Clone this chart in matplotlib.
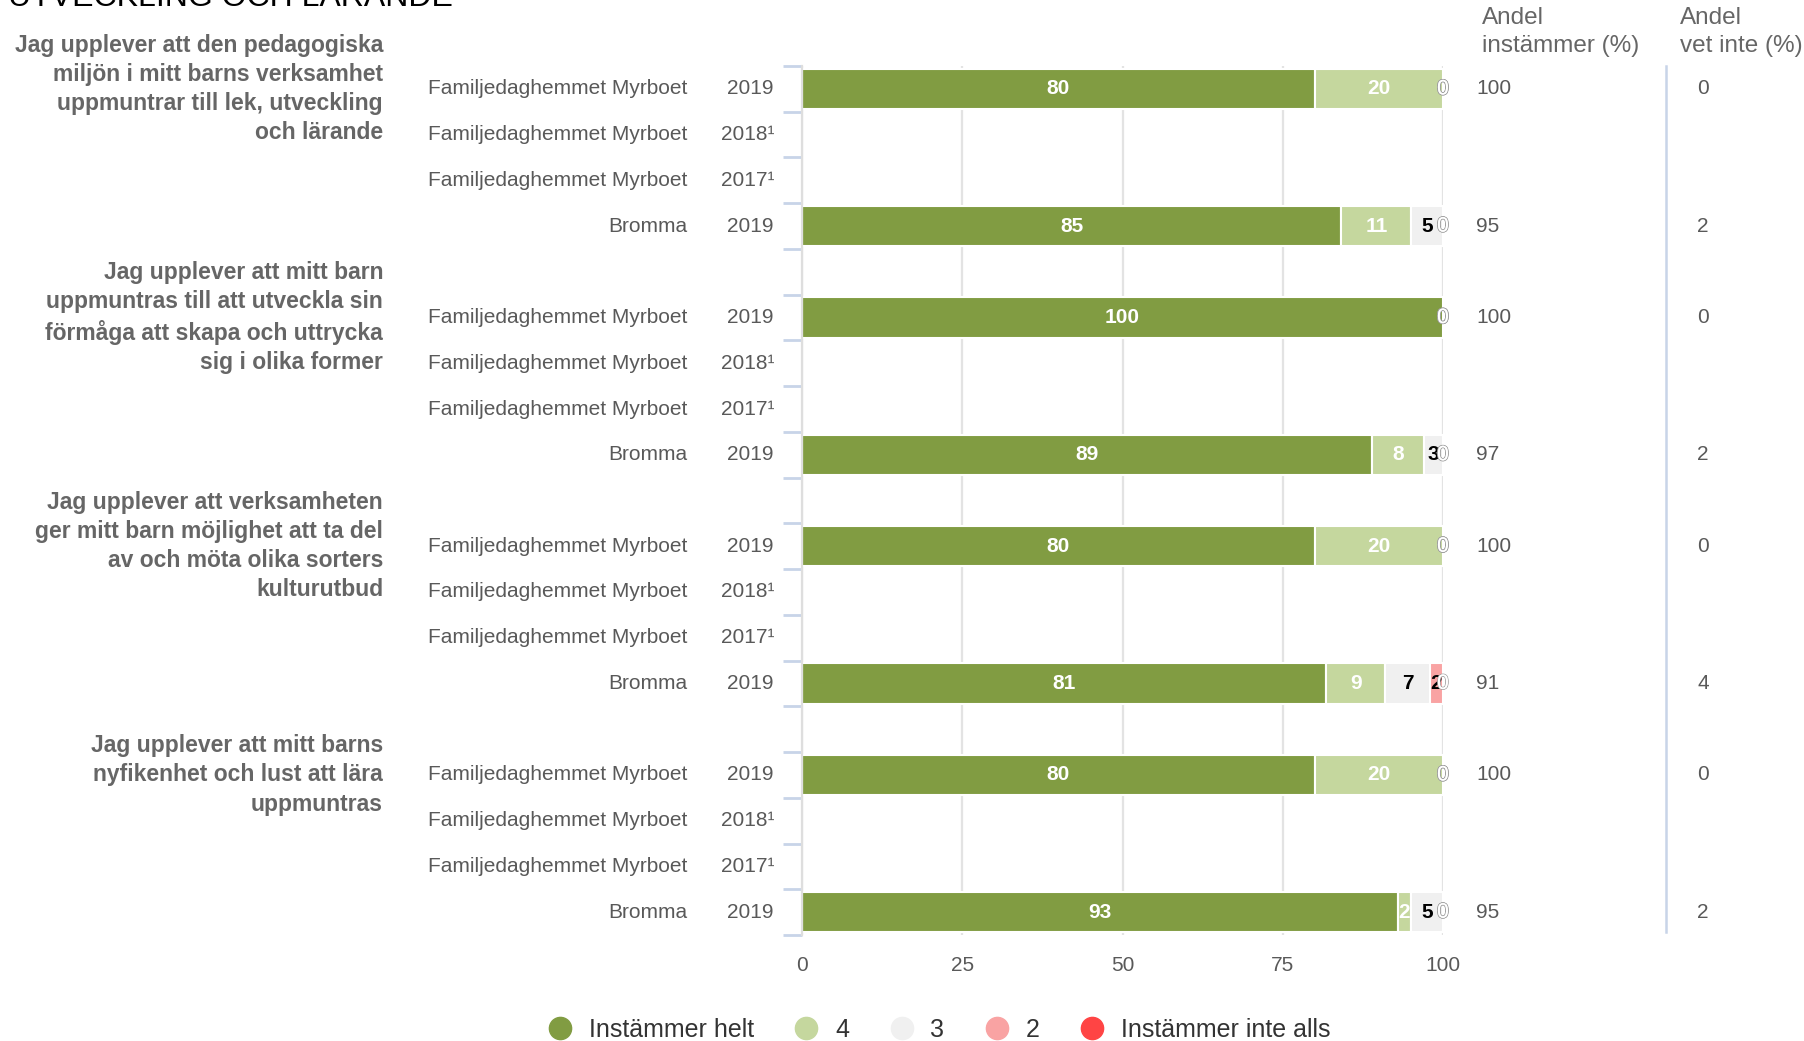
import numpy as np
import matplotlib
matplotlib.use("Agg")
import matplotlib.pyplot as plt
import matplotlib.patheffects as pe
from matplotlib.lines import Line2D
from matplotlib.transforms import blended_transform_factory

plt.rcParams['font.family'] = ['Liberation Sans', 'DejaVu Sans']

#--------------------------Data------------------------------------------#
title = "UTVECKLING OCH LÄRANDE"

questions = [
    "Jag upplever att den pedagogiska\nmiljön i mitt barns verksamhet\nuppmuntrar till lek, utveckling\noch lärande",
    "Jag upplever att mitt barn\nuppmuntras till att utveckla sin\nförmåga att skapa och uttrycka\nsig i olika former",
    "Jag upplever att verksamheten\nger mitt barn möjlighet att ta del\nav och möta olika sorters\nkulturutbud",
    "Jag upplever att mitt barns\nnyfikenhet och lust att lära\nuppmuntras",
]

units = ["Familjedaghemmet Myrboet", "Familjedaghemmet Myrboet",
         "Familjedaghemmet Myrboet", "Bromma"]
years = ["2019", "2018¹", "2017¹", "2019"]

categories = ["Instämmer helt", "4", "3", "2", "Instämmer inte alls"]
cat_colors = ["#819c42", "#c5d79e", "#f0f0f0", "#f9a3a3", "#ff4444"]
label_colors = ["white", "white", "black", "black", "white"]

nan = np.nan
# one value per row, 4 rows per question (Myrboet 2019, 2018, 2017, Bromma 2019)
helt = [80, nan, nan, 85, 100, nan, nan, 89, 80, nan, nan, 81, 80, nan, nan, 93]
fyra = [20, nan, nan, 11, 0, nan, nan, 8, 20, nan, nan, 9, 20, nan, nan, 2]
tre = [0, nan, nan, 5, 0, nan, nan, 3, 0, nan, nan, 7, 0, nan, nan, 5]
tva = [0, nan, nan, 0, 0, nan, nan, 0, 0, nan, nan, 2, 0, nan, nan, 0]
inte_alls = [0, nan, nan, 0, 0, nan, nan, 0, 0, nan, nan, 0, 0, nan, nan, 0]

andel_instammer = ["100", "", "", "95", "100", "", "", "97",
                   "100", "", "", "91", "100", "", "", "95"]
andel_vet_inte = ["0", "", "", "2", "0", "", "", "2",
                  "0", "", "", "4", "0", "", "", "2"]

xticks = [0, 25, 50, 75, 100]

#--------------------------Plot------------------------------------------#
W, H = 1804, 1041
fig = plt.figure(figsize=(W / 100, H / 100), dpi=100)

# axes placed in pixel coordinates of the reference
ax_left, ax_right, ax_top, ax_bottom = 802, 1443, 66, 935
ax = fig.add_axes([ax_left / W, 1 - ax_bottom / H,
                   (ax_right - ax_left) / W, (ax_bottom - ax_top) / H])

series = np.array([helt, fyra, tre, tva, inte_alls], dtype=float)
n_rows = series.shape[1]
# row positions: 4 rows per question + one blank row between questions
ypos = np.array([(i // 4) * 5 + i % 4 for i in range(n_rows)])

bar_h = 0.88
for i in range(n_rows):
    vals = series[:, i]
    if np.isnan(vals).all():
        continue
    widths = vals / vals.sum() * 100
    left = 0
    for k in range(len(categories)):
        w = widths[k]
        if w > 0:
            ax.barh(ypos[i], w, left=left, height=bar_h, color=cat_colors[k],
                    edgecolor="white", linewidth=1.5, zorder=2)
            ax.text(left + w / 2, ypos[i], f"{vals[k]:.0f}", ha="center", va="center",
                    color=label_colors[k], fontsize=15, fontweight="bold", zorder=4)
        else:
            t = ax.text(left, ypos[i], "0", ha="center", va="center",
                        color="white", fontsize=15, zorder=5)
            t.set_path_effects([pe.withStroke(linewidth=1.2, foreground="#a0a0a0"),
                                pe.Normal()])
        left += w

ax.set_xlim(0, 100)
ax.set_ylim(ypos.max() + 0.5, -0.5)
ax.set_xticks(xticks)
ax.set_xticklabels([str(x) for x in xticks])
ax.tick_params(axis="x", length=0, pad=15, labelsize=15, labelcolor="#595959")
ax.set_yticks([])
ax.set_yticks(np.arange(-0.5, ypos.max() + 1, 1), minor=True)
ax.tick_params(axis="y", which="minor", length=14, width=2, color="#c8d4e8",
               labelleft=False)
ax.grid(axis="x", color="#e3e3e3", linewidth=1.6, zorder=0)
ax.set_axisbelow(True)
for s in ["top", "right", "bottom"]:
    ax.spines[s].set_visible(False)
ax.spines["left"].set_color("#dedede")
ax.spines["left"].set_linewidth(1.6)

# row labels and the two value columns
trans = blended_transform_factory(fig.transFigure, ax.transData)
for i in range(n_rows):
    ax.text(687 / W, ypos[i], units[i % 4], transform=trans, ha="right",
            va="center", fontsize=15, color="#595959")
    ax.text(774 / W, ypos[i], years[i % 4], transform=trans, ha="right",
            va="center", fontsize=15, color="#595959")
    ax.text(1476 / W, ypos[i], andel_instammer[i], transform=trans, ha="left",
            va="center", fontsize=15, color="#595959")
    ax.text(1703 / W, ypos[i], andel_vet_inte[i], transform=trans, ha="center",
            va="center", fontsize=15, color="#595959")

for q, text in enumerate(questions):
    ax.text(383 / W, q * 5, text, transform=trans, ha="right", va="center",
            fontsize=16.5, fontweight="bold", color="#666666", linespacing=1.34)

# column headers
fig.text(1482 / W, 1 - 32 / H, "Andel\ninstämmer (%)", ha="left", va="center",
         fontsize=17.5, color="#666666", linespacing=1.32)
fig.text(1680 / W, 1 - 32 / H, "Andel\nvet inte (%)", ha="left", va="center",
         fontsize=17.5, color="#666666", linespacing=1.32)

# separator line between the value columns
fig.add_artist(Line2D([1666 / W, 1666 / W], [1 - 66 / H, 1 - 932 / H],
                      color="#c8d4e8", linewidth=1.8))

# title, cut by the top edge as in the source
fig.text(8 / W, 1 - 6 / H, title, ha="left", va="baseline", fontsize=23,
         color="black")

handles = [Line2D([], [], marker="o", linestyle="none", markersize=16,
                  markerfacecolor=c, markeredgecolor=c) for c in cat_colors]
fig.legend(handles, categories, loc="center", bbox_to_anchor=(0.517, 1 - 1030 / H),
           ncol=5, frameon=False, fontsize=18, handletextpad=0.15,
           columnspacing=1.1, labelcolor="#333333")

fig.savefig("out.png", dpi=100)
